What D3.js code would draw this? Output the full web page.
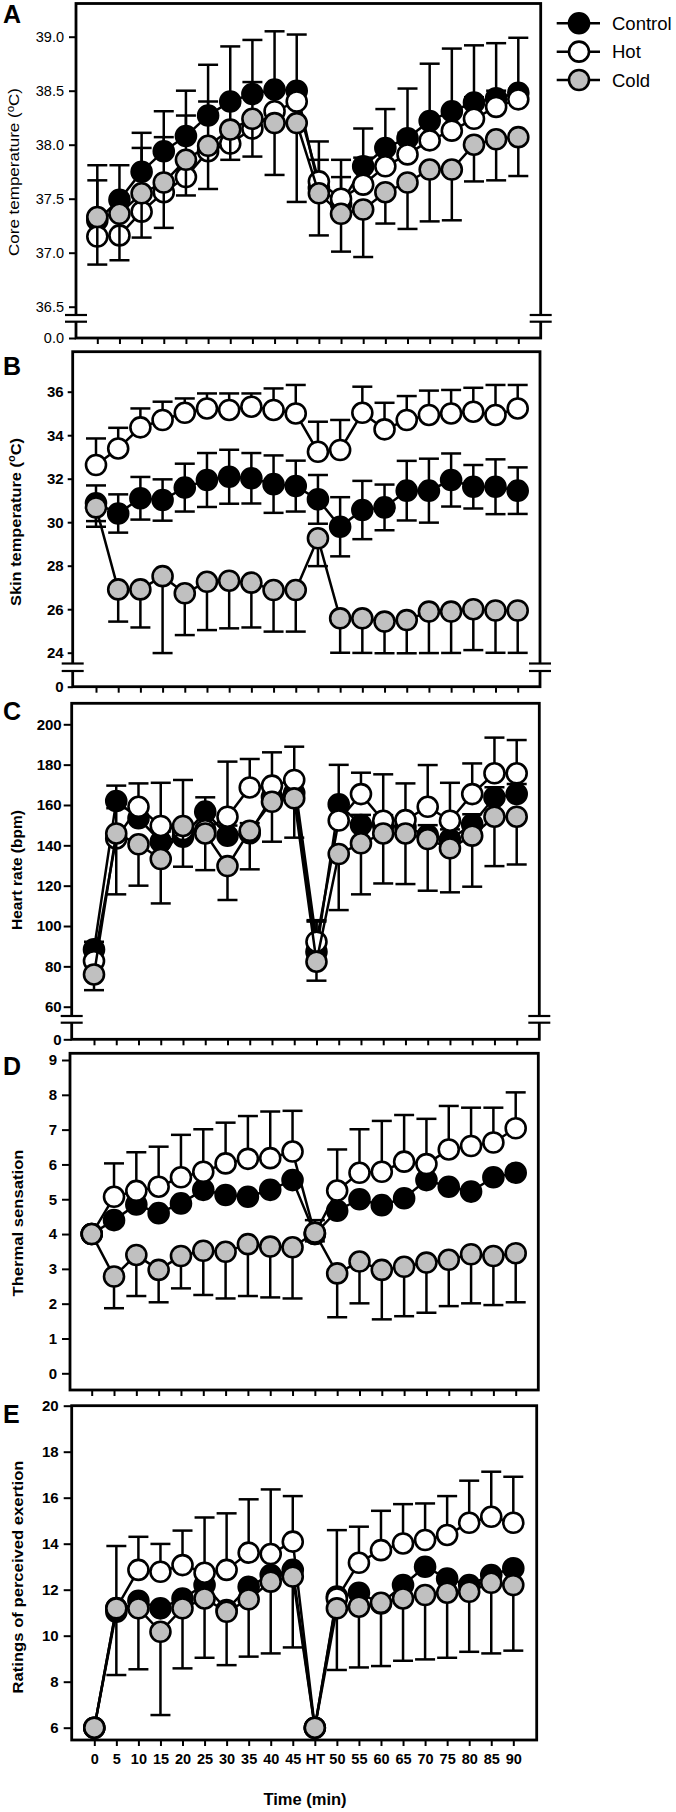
<!DOCTYPE html>
<html>
<head>
<meta charset="utf-8">
<script src="https://cdn.jsdelivr.net/npm/d3@7"></script>
<style>
  body { margin: 0; background: #fff; }
  svg { display: block; font-family: "Liberation Sans", Arial, sans-serif; }
</style>
</head>
<body>
<div id="chart"></div>
<script>
// Time points (x categories) shared by every panel
var timeLabels = ["0", "5", "10", "15", "20", "25", "30", "35", "40", "45", "HT",
                  "50", "55", "60", "65", "70", "75", "80", "85", "90"];
var seriesNames = ["Control", "Hot", "Cold"];

// A - core temperature (mean, SD)
var coreControl   = [37.30, 37.49, 37.75, 37.94, 38.08, 38.27, 38.40, 38.47, 38.51, 38.50, 37.60, 37.45, 37.80, 37.97, 38.06, 38.22, 38.31, 38.39, 38.43, 38.48];
var coreControlSD = [0.51, 0.32, 0.36, 0.37, 0.42, 0.47, 0.51, 0.50, 0.54, 0.52, 0.43, 0.41, 0.35, 0.36, 0.46, 0.53, 0.58, 0.53, 0.51, 0.51];
var coreHot       = [37.15, 37.16, 37.38, 37.56, 37.70, 37.94, 38.01, 38.15, 38.31, 38.40, 37.66, 37.50, 37.63, 37.80, 37.91, 38.04, 38.13, 38.24, 38.35, 38.42];
var coreHotSD     = [0.52, 0.30, 0.59, 0.51, 0.57, 0.46, 0.35, 0.43, 0.20, 0.10, 0.20, 0.20, 0.25, 0.20, 0.20, 0.20, 0.20, 0.20, 0.15, 0.10];
var coreCold      = [37.33, 37.36, 37.55, 37.65, 37.86, 37.99, 38.14, 38.24, 38.20, 38.20, 37.55, 37.36, 37.40, 37.56, 37.65, 37.77, 37.77, 38.00, 38.05, 38.07];
var coreColdSD    = [0.44, 0.43, 0.41, 0.42, 0.33, 0.40, 0.28, 0.35, 0.48, 0.73, 0.39, 0.35, 0.44, 0.29, 0.43, 0.48, 0.47, 0.34, 0.38, 0.36];
var coreTicks     = [0, 36.5, 37, 37.5, 38, 38.5, 39];

// B - skin temperature
var skinControl   = [30.87, 30.40, 31.10, 31.02, 31.59, 31.94, 32.09, 32.02, 31.75, 31.66, 31.05, 29.79, 30.56, 30.68, 31.45, 31.45, 31.94, 31.63, 31.63, 31.45];
var skinControlSD = [0.82, 0.88, 0.98, 0.95, 1.10, 1.24, 1.24, 1.16, 1.32, 1.17, 1.12, 1.36, 1.34, 1.05, 1.37, 1.47, 1.22, 1.00, 1.26, 1.07];
var skinHot       = [32.63, 33.39, 34.36, 34.70, 35.03, 35.23, 35.16, 35.31, 35.16, 35.00, 33.24, 33.32, 35.03, 34.27, 34.70, 34.93, 35.00, 35.08, 34.93, 35.23];
var skinHotSD     = [1.22, 0.95, 0.87, 0.84, 0.66, 0.69, 0.76, 0.61, 0.99, 1.31, 1.38, 1.38, 1.20, 1.22, 1.10, 1.12, 1.08, 1.10, 1.38, 1.08];
var skinCold      = [30.68, 26.91, 26.91, 27.52, 26.73, 27.26, 27.31, 27.22, 26.88, 26.88, 29.26, 25.58, 25.58, 25.43, 25.50, 25.89, 25.89, 26.00, 25.94, 25.94];
var skinColdSD    = [0.89, 1.48, 1.75, 3.78, 1.92, 2.22, 2.19, 2.06, 1.91, 1.91, 1.28, 1.61, 1.73, 1.80, 1.91, 2.15, 2.07, 1.88, 2.00, 2.05];
var skinTicks     = [0, 24, 26, 28, 30, 32, 34, 36];

// C - heart rate
var hrControl   = [88.4, 162.0, 153.4, 141.8, 144.3, 156.7, 144.8, 146.0, 164.0, 166.0, 87.2, 160.4, 150.1, 150.0, 149.0, 145.0, 142.9, 150.4, 163.8, 165.4];
var hrControlSD = [3.8, 7.6, 5, 5, 5, 7.1, 5, 5, 5, 5, 15, 19.5, 5, 5, 5, 5, 5, 5, 5, 5];
var hrHot       = [82.6, 143.4, 159.1, 149.6, 147.5, 147.5, 154.2, 168.7, 169.6, 172.4, 92.2, 152.3, 165.4, 152.2, 152.5, 159.1, 152.2, 165.4, 175.7, 175.7];
var hrHotSD     = [5, 15, 11.6, 21.4, 24.9, 10, 27.3, 14.1, 16.5, 16.5, 10.7, 10, 10.6, 23, 18.2, 20.7, 18.8, 15.2, 17.7, 16.5];
var hrCold      = [76.0, 145.9, 140.5, 133.2, 149.6, 145.9, 129.7, 147.2, 161.6, 163.3, 82.3, 135.7, 141.0, 145.9, 145.9, 143.1, 138.5, 144.8, 154.2, 154.2];
var hrColdSD    = [7.8, 30.2, 20.5, 22, 20.2, 18.2, 16.8, 19.1, 19.8, 19.5, 9.4, 27.8, 25.3, 24.8, 25.1, 25.6, 21.8, 25.3, 24.5, 23.7];
var hrTicks     = [0, 60, 80, 100, 120, 140, 160, 180, 200];

// D - thermal sensation
var tsControl = [4.00, 4.40, 4.85, 4.60, 4.88, 5.27, 5.12, 5.07, 5.27, 5.55, 4.00, 4.67, 5.00, 4.83, 5.03, 5.55, 5.36, 5.22, 5.63, 5.76];
var tsHot     = [4.00, 5.07, 5.24, 5.36, 5.63, 5.79, 6.03, 6.16, 6.18, 6.37, 4.00, 5.25, 5.76, 5.79, 6.08, 6.01, 6.43, 6.53, 6.63, 7.04];
var tsHotSD   = [0, 0.96, 1.11, 1.15, 1.22, 1.22, 1.17, 1.23, 1.34, 1.17, 0.40, 1.18, 1.25, 1.46, 1.34, 1.30, 1.25, 1.10, 1.00, 1.03];
var tsCold    = [4.00, 2.78, 3.40, 2.97, 3.37, 3.52, 3.49, 3.71, 3.64, 3.62, 4.04, 2.87, 3.21, 2.97, 3.06, 3.18, 3.26, 3.42, 3.37, 3.45];
var tsColdSD  = [0, 0.91, 1.18, 0.93, 0.93, 1.27, 1.34, 1.49, 1.46, 1.47, 0.25, 1.26, 1.20, 1.42, 1.42, 1.44, 1.33, 1.41, 1.41, 1.41];
var tsTicks   = [0, 1, 2, 3, 4, 5, 6, 7, 8, 9];

// E - ratings of perceived exertion
var rpeControl = [6, 11.04, 11.52, 11.19, 11.62, 12.20, 11.12, 12.13, 12.64, 12.86, 6, 11.70, 11.87, 11.40, 12.20, 13.00, 12.49, 12.20, 12.64, 12.93];
var rpeHot     = [6, 11.20, 12.86, 12.78, 13.07, 12.74, 12.86, 13.61, 13.55, 14.09, 6, 11.62, 13.17, 13.72, 14.01, 14.16, 14.38, 14.91, 15.17, 14.91];
var rpeHotSD   = [0, 2.70, 1.44, 1.21, 1.50, 2.40, 2.46, 2.32, 2.81, 1.98, 0, 2.97, 1.57, 1.71, 1.71, 1.59, 1.69, 1.83, 1.96, 2.00];
var rpeCold    = [6, 11.19, 11.19, 10.17, 11.19, 11.62, 11.04, 11.58, 12.35, 12.57, 6, 11.19, 11.26, 11.43, 11.62, 11.77, 11.87, 11.91, 12.30, 12.20];
var rpeColdSD  = [0, 2.90, 2.65, 3.62, 2.61, 2.58, 2.32, 2.49, 3.12, 3.08, 0, 2.68, 2.64, 2.75, 2.71, 2.80, 2.83, 2.61, 3.07, 2.85];
var rpeTicks   = [6, 8, 10, 12, 14, 16, 18, 20];

var fills = { Control: "#000000", Hot: "#ffffff", Cold: "#c0c0c0" };

// Panel layout (frame in px, two reference ticks used to calibrate the y scale)
var panels = [
  { letter: "A", letterY: 23, label: ["Core temperature (", "o", "C)"], bold: false, labelX: 19, labelY: 172, labelLen: 168,
    ticks: coreTicks, fmt: ".1f", broken: true, brk: [315, 321.7], tickLen: 7, tickPad: 5,
    top: 3.5, bottom: 338, left: 76, right: 540.7, x0: 97.3, x1: 518.3, v1: 36.5, y1: 306.7, v2: 39, y2: 36.7,
    series: [[coreControl, coreControlSD, "up"], [coreHot, coreHotSD, "up"], [coreCold, coreColdSD, "down"]] },
  { letter: "B", letterY: 375, label: ["Skin temperature (", "o", "C)"], bold: true, labelX: 20.5, labelY: 522, labelLen: 168,
    ticks: skinTicks, fmt: "d", broken: true, brk: [663.5, 671], tickLen: 5, tickPad: 4,
    top: 351.7, bottom: 686.7, left: 72.7, right: 540, x0: 96, x1: 517.7, v1: 24, y1: 652.7, v2: 36, y2: 391.7,
    series: [[skinControl, skinControlSD, "both"], [skinHot, skinHotSD, "up"], [skinCold, skinColdSD, "down"]] },
  { letter: "C", letterY: 720, label: ["Heart rate (bpm)"], bold: true, labelX: 21.5, labelY: 870, labelLen: 120,
    ticks: hrTicks, fmt: "d", broken: true, brk: [1016, 1022.7], tickLen: 8, tickPad: 2,
    top: 703.3, bottom: 1039.3, left: 71.7, right: 539.3, x0: 94, x1: 516.7, v1: 60, y1: 1006.7, v2: 200, y2: 724.3,
    series: [[hrControl, hrControlSD, "up"], [hrHot, hrHotSD, "up"], [hrCold, hrColdSD, "down"]] },
  { letter: "D", letterY: 1075, label: ["Thermal sensation"], bold: true, labelX: 23, labelY: 1223, labelLen: 147,
    ticks: tsTicks, fmt: "d", broken: false, tickLen: 8, tickPad: 5,
    top: 1053.3, bottom: 1390, left: 70, right: 538.3, x0: 91.7, x1: 515.7, v1: 0, y1: 1373.3, v2: 9, y2: 1060,
    series: [[tsControl, null, "none"], [tsHot, tsHotSD, "up"], [tsCold, tsColdSD, "down"]] },
  { letter: "E", letterY: 1423, label: ["Ratings of perceived exertion"], bold: true, labelX: 22.5, labelY: 1577, labelLen: 233,
    ticks: rpeTicks, fmt: "d", broken: false, tickLen: 8, tickPad: 5, xLabels: true,
    top: 1405.7, bottom: 1740, left: 71.7, right: 536.7, x0: 94.3, x1: 513.3, v1: 6, y1: 1727.7, v2: 20, y2: 1405.7,
    series: [[rpeControl, null, "none"], [rpeHot, rpeHotSD, "up"], [rpeCold, rpeColdSD, "down"]] }
];

var radius = 10;
var capHalf = 10;

var svg = d3.select("#chart").append("svg")
    .attr("width", 676)
    .attr("height", 1812);

function makeY(p) {
    var k = (p.y2 - p.y1) / (p.v2 - p.v1);
    var inv = function(py) { return p.v1 + (py - p.y1) / k; };
    if (p.broken) {
        // 0 sits at the frame bottom, the main range starts above the break
        return d3.scaleLinear().domain([0, p.v1, inv(p.top)]).range([p.bottom, p.y1, p.top]);
    }
    return d3.scaleLinear().domain([inv(p.bottom), inv(p.top)]).range([p.bottom, p.top]);
}

function drawPanel(p) {
    var g = svg.append("g");
    var x = d3.scalePoint().domain(timeLabels).range([p.x0, p.x1]);
    var y = makeY(p);

    // left axis
    var yAxis = d3.axisLeft(y)
        .tickValues(p.ticks)
        .tickFormat(d3.format(p.fmt))
        .tickSize(p.tickLen)
        .tickPadding(p.tickPad);
    var ya = g.append("g")
        .attr("transform", "translate(" + p.left + ",0)")
        .call(yAxis);
    ya.select(".domain").remove();
    ya.selectAll(".tick line").style("stroke", "#000").style("stroke-width", 2);
    ya.selectAll(".tick text")
        .style("font-family", "'Liberation Sans', Arial, sans-serif")
        .style("font-size", p.bold ? "15px" : "14.5px")
        .style("font-weight", p.bold ? "bold" : "normal")
        .style("fill", "#000");

    // bottom axis
    var xAxis = d3.axisBottom(x)
        .tickSize(6)
        .tickPadding(8)
        .tickFormat(p.xLabels ? null : "");
    var xa = g.append("g")
        .attr("transform", "translate(0," + p.bottom + ")")
        .call(xAxis);
    xa.select(".domain").remove();
    xa.selectAll(".tick line").style("stroke", "#000").style("stroke-width", 2);
    xa.selectAll(".tick text")
        .style("font-family", "'Liberation Sans', Arial, sans-serif")
        .style("font-size", "14.5px")
        .style("font-weight", "bold")
        .style("fill", "#000");

    // frame
    g.append("rect")
        .attr("x", p.left)
        .attr("y", p.top)
        .attr("width", p.right - p.left)
        .attr("height", p.bottom - p.top)
        .style("fill", "none")
        .style("stroke", "#000")
        .style("stroke-width", 2.8);

    // axis break marks on both sides
    if (p.broken) {
        [p.left, p.right].forEach(function(ax) {
            g.append("rect")
                .attr("x", ax - 3)
                .attr("y", p.brk[0])
                .attr("width", 6)
                .attr("height", p.brk[1] - p.brk[0])
                .style("fill", "#fff");
            p.brk.forEach(function(by) {
                g.append("line")
                    .attr("x1", ax - 11).attr("x2", ax + 11)
                    .attr("y1", by).attr("y2", by)
                    .style("stroke", "#000")
                    .style("stroke-width", 2.2);
            });
        });
    }

    // series: error bars, line, markers (Control, Hot, Cold in that order)
    p.series.forEach(function(s, si) {
        var name = seriesNames[si];
        var pts = s[0].map(function(m, i) {
            return { t: timeLabels[i], m: m, sd: s[1] ? s[1][i] : 0 };
        });
        var dir = s[2];

        if (s[1]) {
            var eb = g.append("g").attr("class", "err-" + name);
            pts.forEach(function(d) {
                if (!d.sd) return;
                var hi = (dir === "up" || dir === "both") ? d.m + d.sd : d.m;
                var lo = (dir === "down" || dir === "both") ? d.m - d.sd : d.m;
                eb.append("line")
                    .attr("x1", x(d.t)).attr("x2", x(d.t))
                    .attr("y1", y(lo)).attr("y2", y(hi))
                    .style("stroke", "#000").style("stroke-width", 2.5);
                var caps = [];
                if (hi !== d.m) caps.push(hi);
                if (lo !== d.m) caps.push(lo);
                caps.forEach(function(c) {
                    eb.append("line")
                        .attr("x1", x(d.t) - capHalf).attr("x2", x(d.t) + capHalf)
                        .attr("y1", y(c)).attr("y2", y(c))
                        .style("stroke", "#000").style("stroke-width", 2.5);
                });
            });
        }

        g.append("path")
            .datum(pts)
            .attr("d", d3.line()
                .x(function(d) { return x(d.t); })
                .y(function(d) { return y(d.m); }))
            .style("fill", "none")
            .style("stroke", "#000")
            .style("stroke-width", 2.5);

        g.selectAll(".pt-" + name)
            .data(pts)
            .enter().append("circle")
            .attr("class", "pt-" + name)
            .attr("cx", function(d) { return x(d.t); })
            .attr("cy", function(d) { return y(d.m); })
            .attr("r", radius)
            .style("fill", fills[name])
            .style("stroke", "#000")
            .style("stroke-width", 2.6);
    });

    // panel letter
    svg.append("text")
        .attr("x", 3)
        .attr("y", p.letterY)
        .style("font-size", "25px")
        .style("font-weight", "bold")
        .text(p.letter);

    // y label (rotated)
    var lab = svg.append("text")
        .attr("transform", "translate(" + p.labelX + "," + p.labelY + ") rotate(-90)")
        .attr("text-anchor", "middle")
        .attr("textLength", p.labelLen)
        .attr("lengthAdjust", "spacingAndGlyphs")
        .style("font-size", "15.5px")
        .style("font-weight", p.bold ? "bold" : "normal");
    lab.append("tspan").text(p.label[0]);
    if (p.label.length > 1) {
        lab.append("tspan").attr("dy", -5.5).style("font-size", "10.5px").text(p.label[1]);
        lab.append("tspan").attr("dy", 5.5).text(p.label[2]);
    }
}

panels.forEach(drawPanel);

// x axis title
svg.append("text")
    .attr("x", 305)
    .attr("y", 1805)
    .attr("text-anchor", "middle")
    .style("font-size", "16.5px")
    .style("font-weight", "bold")
    .text("Time (min)");

// legend
var legend = svg.append("g");
var legendY = d3.scalePoint().domain(seriesNames).range([23.3, 80]);
seriesNames.forEach(function(name) {
    var ly = legendY(name);
    legend.append("line")
        .attr("x1", 556.7).attr("x2", 600)
        .attr("y1", ly).attr("y2", ly)
        .style("stroke", "#000").style("stroke-width", 2.5);
    legend.append("circle")
        .attr("cx", 579).attr("cy", ly).attr("r", radius)
        .style("fill", fills[name])
        .style("stroke", "#000").style("stroke-width", 2.6);
    legend.append("text")
        .attr("x", 612).attr("y", ly)
        .attr("dy", "0.36em")
        .style("font-size", "18.5px")
        .text(name);
});
</script>
</body>
</html>
